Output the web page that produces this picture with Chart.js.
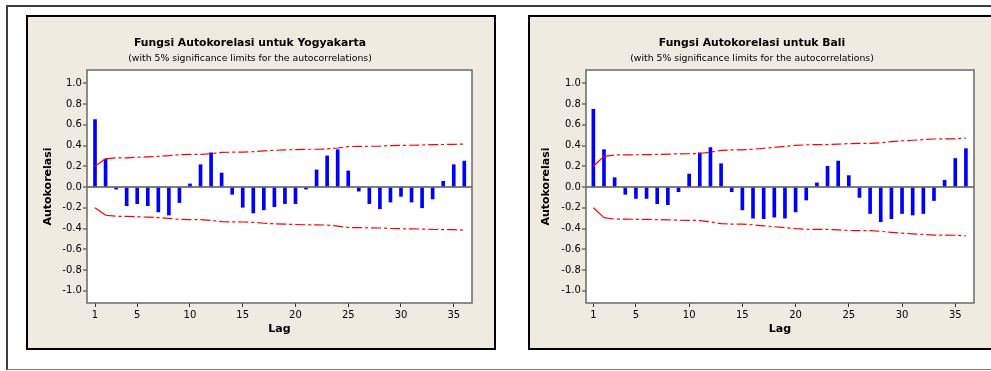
<!DOCTYPE html>
<html>
<head>
<meta charset="utf-8">
<script src="https://cdn.jsdelivr.net/npm/chart.js@4.4.0/dist/chart.umd.min.js"></script>
<style>
  html, body { margin: 0; padding: 0; background: #fff; width: 991px; height: 371px; overflow: hidden; position: relative; }
  .frame { position: absolute; left: 6px; top: 5px; width: 990px; height: 362px; border-top: 2px solid #3c3c3c; border-left: 2px solid #3c3c3c; border-bottom: 1px solid #777; }
  .panel { position: absolute; top: 15px; width: 466px; height: 331px; border: 2px solid #000; background: #efebe1; }
  #p1 { left: 26px; }
  #p2 { left: 528px; }
  canvas { display: block; }
</style>
</head>
<body>
<div class="frame"></div>
<div class="panel" id="p1"><canvas id="c1" width="466" height="331"></canvas></div>
<div class="panel" id="p2"><canvas id="c2" width="466" height="331"></canvas></div>

<script>
// lags and tick labels
const lags = [1, 2, 3, 4, 5, 6, 7, 8, 9, 10, 11, 12, 13, 14, 15, 16, 17, 18,
              19, 20, 21, 22, 23, 24, 25, 26, 27, 28, 29, 30, 31, 32, 33, 34, 35, 36];
const xTicks = [1, 5, 10, 15, 20, 25, 30, 35];
const yTicks = [-1.0, -0.8, -0.6, -0.4, -0.2, 0.0, 0.2, 0.4, 0.6, 0.8, 1.0];

// Yogyakarta
const yogyaAcf = [0.65, 0.27, -0.02, -0.18, -0.16, -0.18, -0.24, -0.27, -0.15, 0.03, 0.215, 0.33,
                  0.135, -0.07, -0.195, -0.25, -0.22, -0.19, -0.16, -0.16, -0.02, 0.165, 0.30, 0.36,
                  0.155, -0.04, -0.16, -0.21, -0.145, -0.09, -0.145, -0.20, -0.115, 0.055, 0.215, 0.25];
const yogyaLimit = [0.200, 0.272, 0.282, 0.282, 0.287, 0.290, 0.295, 0.302, 0.312, 0.315, 0.315, 0.321,
                    0.334, 0.336, 0.337, 0.341, 0.349, 0.354, 0.358, 0.361, 0.364, 0.364, 0.367, 0.376,
                    0.390, 0.392, 0.393, 0.395, 0.400, 0.402, 0.403, 0.405, 0.409, 0.410, 0.411, 0.415];

// Bali
const baliAcf = [0.75, 0.36, 0.09, -0.07, -0.11, -0.11, -0.16, -0.17, -0.045, 0.125, 0.33, 0.38,
                 0.225, -0.045, -0.22, -0.30, -0.305, -0.29, -0.30, -0.24, -0.125, 0.04, 0.20, 0.25,
                 0.11, -0.10, -0.255, -0.335, -0.305, -0.255, -0.27, -0.255, -0.13, 0.065, 0.275, 0.37];
const baliLimit = [0.200, 0.295, 0.309, 0.310, 0.311, 0.312, 0.314, 0.317, 0.320, 0.321, 0.323, 0.336,
                   0.353, 0.358, 0.358, 0.364, 0.374, 0.383, 0.392, 0.401, 0.407, 0.409, 0.409, 0.413,
                   0.419, 0.420, 0.421, 0.427, 0.437, 0.445, 0.451, 0.457, 0.463, 0.464, 0.465, 0.472];

const subTitle = '(with 5% significance limits for the autocorrelations)';

Chart.defaults.font.family = 'DejaVu Sans';
Chart.defaults.color = '#000';

// white plot area + grey frame round it
const plotFrame = {
  id: 'plotFrame',
  beforeDraw(chart) {
    const a = chart.chartArea, c = chart.ctx;
    c.save();
    c.fillStyle = '#fff';
    c.fillRect(a.left, a.top, a.right - a.left, a.bottom - a.top);
    c.restore();
  },
  afterDatasetsDraw(chart) {
    const a = chart.chartArea, c = chart.ctx;
    c.save();
    c.strokeStyle = '#6a6a6a';
    c.lineWidth = 1.5;
    c.strokeRect(a.left, a.top, a.right - a.left, a.bottom - a.top);
    c.restore();
  }
};

function pts(vals, sign) {
  return lags.map((l, i) => ({ x: l, y: sign * vals[i] }));
}

function limitLine(vals, sign) {
  return {
    type: 'line',
    data: pts(vals, sign),
    borderColor: '#ff0000',
    borderWidth: 1.2,
    pointRadius: 0,
    tension: 0,
    segment: { borderDash: ctx => ctx.p0DataIndex === 0 ? [] : [10, 3, 3, 3] }
  };
}

function makeChart(id, title, acf, limit, lay) {
  new Chart(document.getElementById(id), {
    type: 'bar',
    data: {
      datasets: [
        limitLine(limit, 1),
        limitLine(limit, -1),
        {
          data: pts(acf, 1),
          backgroundColor: '#0000ff',
          barThickness: 3
        }
      ]
    },
    options: {
      responsive: false,
      animation: false,
      devicePixelRatio: 1,
      layout: { padding: { left: 0, right: 22, top: 0, bottom: 0 } },
      plugins: {
        legend: { display: false },
        tooltip: { enabled: false },
        title: {
          display: true,
          text: title,
          font: { size: 10.8, weight: 'bold' },
          padding: { top: 19.5, bottom: 0 }
        },
        subtitle: {
          display: true,
          text: subTitle,
          font: { size: 9.3 },
          padding: { top: 3.5, bottom: 5.9 }
        }
      },
      scales: {
        x: {
          type: 'linear',
          min: lay.xMin,
          max: lay.xMax,
          offset: false,
          afterBuildTicks: s => { s.ticks = xTicks.map(v => ({ value: v })); },
          afterFit: s => { s.height = 45; },
          grid: { drawOnChartArea: false, offset: false, tickLength: 4, tickColor: '#333', tickWidth: 1 },
          border: { display: false },
          ticks: { font: { size: 10 }, padding: 2.6, maxRotation: 0, autoSkip: false },
          title: { display: true, text: 'Lag', font: { size: 11, weight: 'bold' }, padding: { top: 0, bottom: 12.4 } }
        },
        y: {
          min: -1.118,
          max: 1.128,
          afterBuildTicks: s => { s.ticks = yTicks.map(v => ({ value: v })); },
          afterFit: s => { s.width = lay.yWidth; },
          grid: {
            color: ctx => ctx.tick && ctx.tick.value === 0 ? '#808080' : 'rgba(0,0,0,0)',
            lineWidth: 2,
            tickLength: 4,
            tickColor: '#333',
            tickWidth: 1
          },
          border: { display: false },
          ticks: { font: { size: 10 }, padding: 1.2, callback: v => Number(v).toFixed(1) },
          title: { display: true, text: 'Autokorelasi', font: { size: 11, weight: 'bold' }, padding: { top: lay.yTitlePad, bottom: 0 } }
        }
      }
    },
    plugins: [plotFrame]
  });
}

makeChart('c1', 'Fungsi Autokorelasi untuk Yogyakarta', yogyaAcf, yogyaLimit,
  { xMin: 0.24, xMax: 36.73, yWidth: 59, yTitlePad: 13.4 });
makeChart('c2', 'Fungsi Autokorelasi untuk Bali', baliAcf, baliLimit,
  { xMin: 0.31, xMax: 36.76, yWidth: 56, yTitlePad: 10 });
</script>
</body>
</html>
